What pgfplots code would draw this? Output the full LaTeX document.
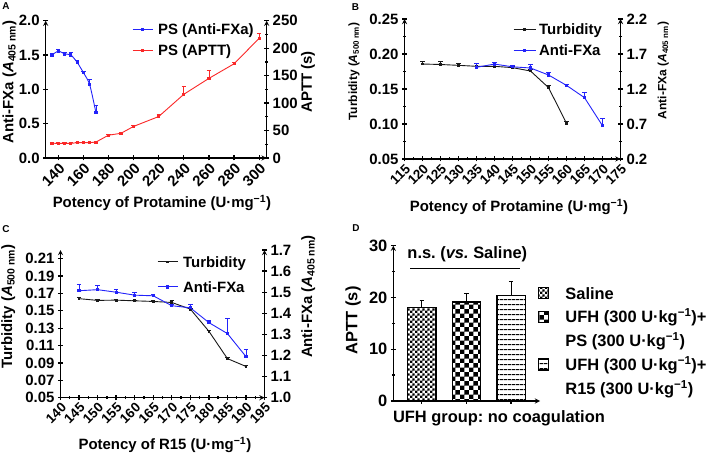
\documentclass[border=0pt]{standalone}
\usepackage{fontspec}
\setmainfont{Liberation Sans}
\newfontface\tickbf{Liberation Sans Bold}
\usepackage{pgfplots}
\pgfplotsset{compat=1.18}
\usetikzlibrary{patterns}
\frenchspacing

\definecolor{cblue}{RGB}{35,35,250}
\definecolor{cred}{RGB}{250,40,40}
\definecolor{cblack}{RGB}{25,25,25}

\pgfdeclarepatternformonly{finecheck}{\pgfpointorigin}{\pgfpoint{5.2bp}{5.2bp}}{\pgfpoint{5.2bp}{5.2bp}}{%
  \pgfpathrectangle{\pgfpointorigin}{\pgfpoint{2.6bp}{2.6bp}}%
  \pgfpathrectangle{\pgfpoint{2.6bp}{2.6bp}}{\pgfpoint{2.6bp}{2.6bp}}%
  \pgfusepath{fill}}
\pgfdeclarepatternformonly{bigcheck}{\pgfpointorigin}{\pgfpoint{9.4bp}{9.4bp}}{\pgfpoint{9.4bp}{9.4bp}}{%
  \pgfpathrectangle{\pgfpointorigin}{\pgfpoint{4.7bp}{4.7bp}}%
  \pgfpathrectangle{\pgfpoint{4.7bp}{4.7bp}}{\pgfpoint{4.7bp}{4.7bp}}%
  \pgfusepath{fill}}
\pgfdeclarepatternformonly{hlines}{\pgfpointorigin}{\pgfpoint{4bp}{5.3bp}}{\pgfpoint{4bp}{5.3bp}}{%
  \pgfpathrectangle{\pgfpoint{0bp}{2bp}}{\pgfpoint{4bp}{1.3bp}}%
  \pgfusepath{fill}}

\newcommand\fs[1]{\fontsize{#1}{#1}\selectfont\bfseries}
\newcommand\ft[1]{\fontsize{#1}{#1}\tickbf}

\pgfplotsset{
  base/.style={scale only axis, clip=false, anchor=south west,
    axis line style={line width=1.3bp, black, -},
    tick align=outside, major tick length=5bp, minor tick length=3bp,
    tick style={black, line width=1.3bp},
    tick label style={font=\ft{15}},
    /pgf/number format/assume math mode=true},
  leftax/.style={base, axis x line=bottom, axis y line=left},
  rightax/.style={base, axis y line=right, hide x axis},
  xrot/.style={xticklabel={\ft{#1}\pgfmathprintnumber[fixed,precision=0,assume math mode=true]{\tick}},
    xticklabel style={rotate=45, anchor=north east, inner sep=1bp, font=\ft{#1}}},
  ytl/.style={yticklabel={\pgfmathprintnumber[fixed,fixed zerofill,precision=#1,assume math mode=true]{\tick}}},
  errp/.style={/pgfplots/error bars/y dir=plus, /pgfplots/error bars/y explicit,
    /pgfplots/error bars/error bar style={line width=0.8bp, solid},
    /pgfplots/error bars/error mark options={rotate=90, line width=0.8bp, mark size=2.2bp}},
  ser/.style={color=#1, line width=0.9bp, mark=square*, mark size=1.1bp, errp},
  barlg/.style={legend image code/.code={\draw[##1] (0bp,-3.5bp) rectangle (10bp,7.5bp);}},
  xlab/.style n args={3}{every axis x label/.style={at={([yshift=#3]axis description cs:#1,0)}, anchor=center, font=\fs{#2}}},
  ylabL/.style n args={3}{every axis y label/.style={at={([xshift=#1]axis description cs:0,#2)}, rotate=90, anchor=center, font=\fs{#3}}},
  ylabR/.style n args={3}{every axis y label/.style={at={([xshift=#1]axis description cs:1,#2)}, rotate=90, anchor=center, font=\fs{#3}}},
  lgd/.style n args={4}{legend cell align=left,
    legend image code/.code={\draw[mark repeat=2,mark phase=2,##1] plot coordinates {(0bp,1.6bp) (#4/2,1.6bp) (#4,1.6bp)};},
    legend style={draw=none, fill=none, inner sep=0pt, column sep=#3, row sep=#2,
      at={(#1)}, anchor=north west, font=\fs{15},
      nodes={inner sep=1bp, text height=11bp, text depth=3.5bp, anchor=west}}},
}

\begin{document}
\begin{tikzpicture}
\useasboundingbox (0,0) rectangle (709bp,455bp);

% ---------------- Panel A ----------------
\begin{axis}[leftax, at={(45.7bp,297bp)}, width=221bp, height=137.3bp,
  xmin=130, xmax=306, ymin=0, ymax=2,
  xtick={140,160,180,200,220,240,260,280,300}, xrot=15,
  ytick={0,0.5,1,1.5,2}, ytl=1,
  xlabel={Potency of Protamine (U·mg\textsuperscript{−1})},
  ylabel={Anti-FXa (\textit{A}\textsubscript{405 nm})},
  xlab={0.526}{15}{-45bp}, ylabL={-36.2bp}{0.555}{15}]
\addplot[ser=cblue, smooth, tension=0.45] table[x=x,y=y,y error=e]{
x y e
135 1.500 0.020
140 1.556 0.025
145 1.517 0.015
150 1.500 0.045
155 1.395 0.030
160 1.244 0.020
165 1.070 0.070
170 0.660 0.110
};
\end{axis}
\begin{axis}[rightax, at={(45.7bp,297bp)}, width=221bp, height=137.3bp,
  xmin=130, xmax=306, ymin=0, ymax=250,
  ytick={0,50,100,150,200,250}, ytl=0,
  minor y tick num=1,
  ylabel={APTT (s)}, ylabR={41.3bp}{0.555}{15},
  lgd={0.3905,0.988}{4.5bp}{4bp}{20bp}]
\addlegendimage{ser=cblue}
\addlegendentry{PS (Anti-FXa)}
\addplot[ser=cred] table[x=x,y=y,y error=e]{
x y e
135 27.0 1.0
140 26.5 1.0
145 26.5 1.0
150 26.5 1.0
155 28.0 1.0
160 28.0 1.0
165 28.0 1.0
170 29.0 1.0
180 41.5 1.5
190 45.0 1.5
200 57.5 2.0
220 75.5 3.0
240 116.0 14.0
260 145.0 14.0
280 171.5 2.0
300 218.0 8.0
};
\addlegendentry{PS (APTT)}
\end{axis}

% ---------------- Panel B ----------------
\begin{axis}[leftax, at={(404.5bp,296bp)}, width=216bp, height=140bp,
  xmin=115, xmax=175, ymin=0.05, ymax=0.25,
  xtick={115,120,125,130,135,140,145,150,155,160,165,170,175}, xrot=13.5,
  minor x tick num=1, minor y tick num=1,
  ytick={0.05,0.1,0.15,0.2,0.25}, ytl=2,
  xlabel={Potency of Protamine (U·mg\textsuperscript{−1})},
  ylabel={Turbidity (\textit{A}\textsubscript{500 nm})},
  xlab={0.53}{15}{-48bp}, ylabL={-50.5bp}{0.625}{12}]
\addplot[ser=cblack, mark size=0.9bp] table[x=x,y=y,y error=e]{
x y e
120 0.1857 0.004
125 0.1850 0.004
130 0.1838 0.003
135 0.1824 0.004
140 0.1824 0.003
145 0.1805 0.002
150 0.1757 0.002
155 0.1520 0.003
160 0.1010 0.002
};
\end{axis}
\begin{axis}[rightax, at={(404.5bp,296bp)}, width=216bp, height=140bp,
  xmin=115, xmax=175, ymin=0.2, ymax=2.2,
  ytick={0.2,0.7,1.2,1.7,2.2}, ytl=1, minor y tick num=1,
  ylabel={Anti-FXa (\textit{A}\textsubscript{405 nm})}, ylabR={42.8bp}{0.632}{12},
  lgd={0.5023,0.976}{4.5bp}{2bp}{22bp}]
\addlegendimage{ser=cblack, mark size=0.9bp}
\addlegendentry{Turbidity}
\addplot[ser=cblue] table[x=x,y=y,y error=e]{
x y e
135 1.510 0.050
140 1.556 0.025
145 1.517 0.015
150 1.500 0.045
155 1.400 0.030
160 1.252 0.020
165 1.076 0.070
170 0.676 0.110
};
\addlegendentry{Anti-FXa}
\end{axis}

% ---------------- Panel C ----------------
\begin{axis}[leftax, at={(60.5bp,57.3bp)}, width=204bp, height=147.7bp,
  xmin=140, xmax=195, ymin=0.05, ymax=0.22,
  xtick={140,145,150,155,160,165,170,175,180,185,190,195}, xrot=13.5,
  minor x tick num=1,
  ytick={0.05,0.07,0.09,0.11,0.13,0.15,0.17,0.19,0.21}, ytl=2,
  xlabel={Potency of R15 (U·mg\textsuperscript{−1})},
  ylabel={Turbidity (\textit{A}\textsubscript{500 nm})},
  xlab={0.512}{15}{-47.3bp}, ylabL={-52.2bp}{0.617}{15}]
\addplot[ser=cblack, mark size=0.9bp] table[x=x,y=y,y error=e]{
x y e
145 0.1640 0.001
150 0.1620 0.001
155 0.1623 0.001
160 0.1615 0.001
165 0.1608 0.001
170 0.1596 0.002
175 0.1520 0.001
180 0.1265 0.001
185 0.0950 0.001
190 0.0860 0.001
};
\end{axis}
\begin{axis}[rightax, at={(60.5bp,57.3bp)}, width=204bp, height=147.7bp,
  xmin=140, xmax=195, ymin=1.0, ymax=1.7,
  ytick={1.0,1.1,1.2,1.3,1.4,1.5,1.6,1.7}, ytl=1,
  ylabel={Anti-FXa (\textit{A}\textsubscript{405 nm})}, ylabR={43.8bp}{0.685}{15},
  lgd={0.473,0.9658}{8.5bp}{4bp}{20bp}]
\addlegendimage{ser=cblack, mark size=0.9bp}
\addlegendentry{Turbidity}
\addplot[ser=cblue] table[x=x,y=y,y error=e]{
x y e
145 1.507 0.032
150 1.512 0.019
155 1.500 0.014
160 1.486 0.013
165 1.483 0.005
170 1.436 0.007
175 1.426 0.016
180 1.356 0.011
185 1.304 0.070
190 1.195 0.035
};
\addlegendentry{Anti-FXa}
\end{axis}

% ---------------- Panel D ----------------
\begin{axis}[leftax, at={(393.3bp,54bp)}, width=146.7bp, height=155.3bp,
  xmin=0.36, xmax=3.65, ymin=0, ymax=30,
  xtick={1,2,3}, xticklabels={},
  ytick={0,10,20,30}, ytl=0, minor y tick num=1,
  tick label style={font=\ft{16.5}},
  xlabel={UFH group: no coagulation}, ylabel={APTT (s)},
  xlab={0.72}{16.5}{-17bp}, ylabL={-40.3bp}{0.52}{16.5},
  legend cell align=left,
  legend style={draw=none, fill=none, inner sep=0pt, column sep=15.3bp, row sep=5.8bp,
    at={(0.984,0.741)}, anchor=north west, font=\fs{16.5},
    nodes={inner sep=1bp, text height=12bp, text depth=4bp, anchor=west}}]
\addplot[ybar, bar width=28.3bp, bar shift=0pt, draw=black, line width=1.3bp, fill=white,
  postaction={pattern=finecheck}, errp, barlg]
  coordinates {(1,18.0) +- (0,1.5)};
\addlegendentry{Saline}
\addplot[ybar, bar width=28.3bp, bar shift=0pt, draw=black, line width=1.3bp, fill=white,
  postaction={pattern=bigcheck}, errp, barlg]
  coordinates {(2,19.1) +- (0,1.6)};
\addlegendentry{UFH (300 U·kg\textsuperscript{−1})+}
\addlegendimage{empty legend}
\addlegendentry{PS (300 U·kg\textsuperscript{−1})}
\addplot[ybar, bar width=28.3bp, bar shift=0pt, draw=black, line width=1.3bp, fill=white,
  postaction={pattern=hlines}, errp, barlg]
  coordinates {(3,20.4) +- (0,2.8)};
\addlegendentry{UFH (300 U·kg\textsuperscript{−1})+}
\addlegendimage{empty legend}
\addlegendentry{R15 (300 U·kg\textsuperscript{−1})}
\draw[line width=1.5bp] (axis cs:0.74,25.6) -- (axis cs:3.2,25.6);
\node[font=\fs{16.5}] at (axis cs:2.02,28.3) {n.s. (\textit{vs.} Saline)};
\end{axis}

% panel letters
\node[font=\fs{10}] at (6bp,449bp) {A};
\node[font=\fs{10}] at (355.5bp,447.5bp) {B};
\node[font=\fs{10}] at (6bp,226bp) {C};
\node[font=\fs{10}] at (356bp,227bp) {D};
\end{tikzpicture}
\end{document}
